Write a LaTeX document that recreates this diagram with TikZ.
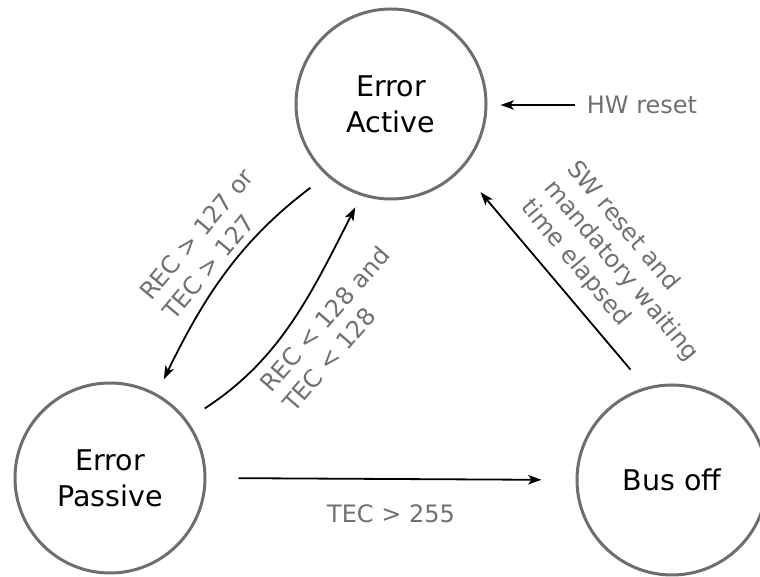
\documentclass[tikz,border=0pt]{standalone}
\usepackage{fontspec}
\setmainfont{DejaVu Sans}
\usetikzlibrary{arrows.meta}
\definecolor{ringgray}{HTML}{6E6E6E}
\definecolor{labelgray}{HTML}{707070}
\begin{document}
\begin{tikzpicture}[x=0.75pt,y=0.75pt,
  state/.style={circle,draw=ringgray,line width=2.25pt,minimum size=142.5pt,
    inner sep=0pt,align=center,font=\fontsize{21.4pt}{27pt}\selectfont,text=black},
  cond/.style={text=labelgray,inner sep=0pt,align=left,
    font=\fontsize{18pt}{22.5pt}\selectfont},
  arr/.style={-{Stealth[length=10pt,width=7pt,inset=2.5pt]},line width=1.35pt,black}]
\useasboundingbox (0,0) rectangle (760,577);

% states
\node[state] (act) at (391,473) {Error\\Active};
\node[state] (pas) at (110,99) {Error\\Passive};
\node[state] (bus) at (672,97) {Bus off};

% condition labels
\node[cond] (hwl) at (642,472) {HW reset};
\node[cond,align=center] (tecl) at (391,63) {TEC > 255};
\node[cond,rotate=50] (upl) at (208,333) {REC > 127 or\\TEC > 127};
\node[cond,rotate=49] (downl) at (336,248) {REC < 128 and\\TEC < 128};
\node[cond,rotate=-50] (swl) at (621,306) {SW reset and\\mandatory waiting\\time elapsed};

% transitions
\draw[arr,shorten <=9pt,shorten >=9.75pt] (hwl.west) -- (hwl.west -| act.east);
\draw[arr,shorten <=24pt,shorten >=25.5pt] (pas.east) -- (bus.west);
\draw[arr,shorten <=17.3pt,shorten >=22pt] (bus.106.3) -- (act.-43.1);
\draw[arr,shorten <=15pt,shorten >=12pt] (act.228) to[out=217,in=64] (pas.61);
\draw[arr,shorten <=15.75pt,shorten >=9.75pt] (pas.37) to[out=33,in=243] (act.252);
\end{tikzpicture}
\end{document}
